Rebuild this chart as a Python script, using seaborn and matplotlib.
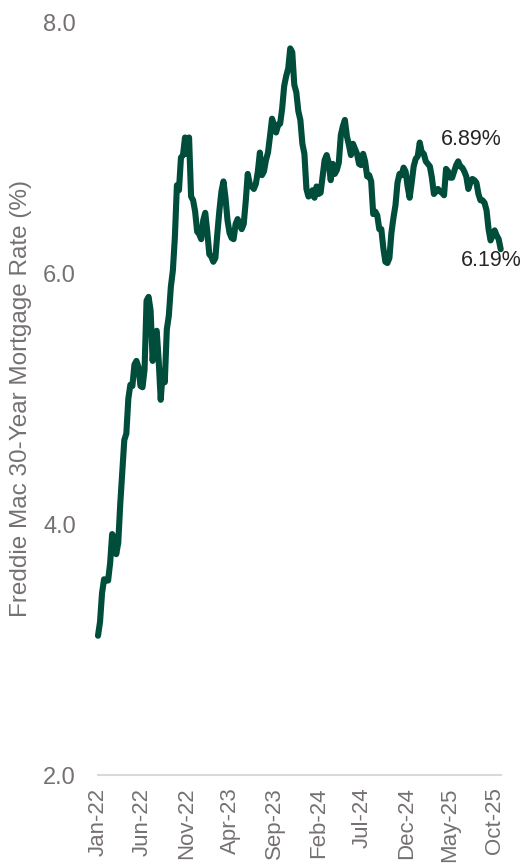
import pandas as pd
import numpy as np
import matplotlib
matplotlib.use("Agg")
import matplotlib.pyplot as plt
import seaborn as sns

# Weekly Freddie Mac 30-year fixed rate (%), Dec 30 2021 -> Oct 23 2025
start_date = "2021-12-30"
rates_2021 = [3.11]
rates_2022 = [3.22, 3.45, 3.56, 3.55,
              3.55, 3.69, 3.92, 3.89,
              3.76, 3.85, 4.16, 4.42, 4.67,
              4.72, 5.00, 5.11, 5.10,
              5.27, 5.30, 5.25, 5.10,
              5.09, 5.23, 5.78, 5.81, 5.70,
              5.30, 5.51, 5.54, 5.30,
              4.99, 5.22, 5.13, 5.55,
              5.66, 5.89, 6.02, 6.29, 6.70,
              6.66, 6.92, 6.94, 7.08,
              6.95, 7.08, 6.61, 6.58,
              6.49, 6.33, 6.31, 6.27, 6.42]
rates_2023 = [6.48, 6.33, 6.15, 6.13,
              6.09, 6.12, 6.32, 6.50,
              6.65, 6.73, 6.60, 6.42, 6.32,
              6.28, 6.27, 6.39, 6.43,
              6.39, 6.35, 6.39, 6.57,
              6.79, 6.71, 6.69, 6.67, 6.71,
              6.81, 6.96, 6.78, 6.81,
              6.90, 6.96, 7.09, 7.23, 7.18,
              7.12, 7.18, 7.19, 7.31,
              7.49, 7.57, 7.63, 7.79,
              7.76, 7.50, 7.44, 7.29, 7.22,
              7.03, 6.95, 6.67, 6.61]
rates_2024 = [6.62, 6.66, 6.60, 6.69,
              6.63, 6.64, 6.77, 6.90, 6.94,
              6.88, 6.74, 6.87, 6.79,
              6.82, 6.88, 7.10, 7.17,
              7.22, 7.09, 7.02, 6.94, 7.03,
              6.99, 6.95, 6.87, 6.86,
              6.95, 6.89, 6.77, 6.78,
              6.73, 6.47, 6.49, 6.46, 6.35,
              6.35, 6.20, 6.09, 6.08,
              6.12, 6.32, 6.44, 6.54, 6.72,
              6.79, 6.78, 6.84, 6.81,
              6.69, 6.60, 6.72, 6.85]
rates_2025 = [6.91, 6.93, 7.04, 6.96, 6.95,
              6.89, 6.87, 6.85, 6.76,
              6.63, 6.65, 6.67, 6.65,
              6.64, 6.62, 6.83, 6.81,
              6.76, 6.76, 6.81, 6.86, 6.89,
              6.85, 6.84, 6.81, 6.77,
              6.67, 6.72, 6.75, 6.74, 6.72,
              6.63, 6.58, 6.58, 6.56,
              6.50, 6.35, 6.26, 6.30,
              6.34, 6.30, 6.27, 6.19]

rates = rates_2021 + rates_2022 + rates_2023 + rates_2024 + rates_2025
dates = pd.date_range(start_date, periods=len(rates), freq="7D")
df = pd.DataFrame({"date": dates, "rate": rates})

tick_dates = pd.date_range("2022-01-01", "2025-10-01", freq="5MS")
tick_labels = [d.strftime("%b-%y") for d in tick_dates]
y_ticks = [2.0, 4.0, 6.0, 8.0]

# labelled points: (date, text, offset in pixels)
callouts = [("2025-05-29", "6.89%", (13, 22)),
            ("2025-10-23", "6.19%", (-9, -11))]

line_color = "#004D3B"
gray = "#767171"

sns.set_theme(style="white")
plt.rcParams["font.family"] = ["Liberation Sans", "DejaVu Sans"]

fig = plt.figure(figsize=(5.26, 8.65), dpi=100)
ax = fig.add_axes([0.1863, 0.104, 0.7656, 0.8705])

sns.lineplot(data=df, x="date", y="rate", color=line_color, linewidth=4.4, ax=ax)

ax.set_xlim(dates[0], dates[-1])
ax.set_ylim(2, 8)
ax.set_yticks(y_ticks)
ax.set_yticklabels([f"{v:.1f}" for v in y_ticks])
ax.set_xticks(tick_dates)
ax.set_xticklabels(tick_labels, rotation=90)

ax.tick_params(axis="y", length=0, pad=16, labelsize=17, labelcolor=gray)
ax.tick_params(axis="x", length=0, pad=9, labelsize=16, labelcolor=gray)

for side in ["top", "right", "left"]:
    ax.spines[side].set_visible(False)
ax.spines["bottom"].set_color("#D9D9D9")
ax.spines["bottom"].set_linewidth(1.5)

ax.set_xlabel("")
ax.set_ylabel("Freddie Mac 30-Year Mortgage Rate (%)", fontsize=17.5, color=gray)
ax.yaxis.set_label_coords(-0.164, 0.5)

for d, txt, off in callouts:
    d = pd.Timestamp(d)
    val = df.loc[df["date"] == d, "rate"].iloc[0]
    ax.annotate(txt, xy=(d, val), xytext=off, textcoords="offset pixels",
                ha="center", va="center", fontsize=15.5, color="#262626")

for line in ax.get_lines():
    line.set_clip_on(False)

fig.savefig("out.png", dpi=100)
